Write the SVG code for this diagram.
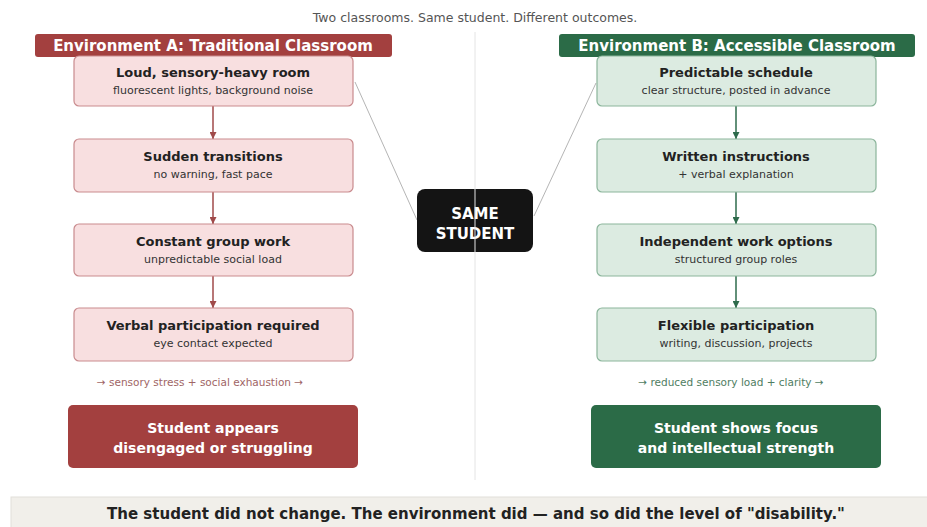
<svg xmlns="http://www.w3.org/2000/svg" width="927" height="527" viewBox="0 0 927 527">
<style>
text{font-family:"DejaVu Sans","Liberation Sans",sans-serif;text-anchor:middle}
.t{font-size:12.5px;fill:#555}
.hd{font-size:15px;font-weight:bold;fill:#fff}
.bt{font-size:13px;font-weight:bold;fill:#222}
.bs{font-size:11px;fill:#333}
.ra{fill:#f8dfe0;stroke:#c98b8e;stroke-width:1.2}
.ga{fill:#dcebe1;stroke:#8bb59b;stroke-width:1.2}
.sumA{font-size:10.5px;fill:#a06565}
.sumB{font-size:10.5px;fill:#4f7d62}
.out{font-size:14px;font-weight:bold;fill:#fff}
.ar{stroke:#a04a4a;stroke-width:1.5;fill:none}
.ag{stroke:#2e6b4c;stroke-width:1.5;fill:none}
.ln{stroke:#b5b5b5;stroke-width:1;fill:none}
</style>
<defs>
<marker id="mr" viewBox="0 0 10 10" refX="10" refY="5" markerWidth="7" markerHeight="7" markerUnits="userSpaceOnUse" orient="auto"><path d="M0,0L10,5L0,10z" fill="#a04a4a"/></marker>
<marker id="mg" viewBox="0 0 10 10" refX="10" refY="5" markerWidth="7" markerHeight="7" markerUnits="userSpaceOnUse" orient="auto"><path d="M0,0L10,5L0,10z" fill="#2e6b4c"/></marker>
</defs>
<rect width="927" height="527" fill="#fff"/>
<text class="t" x="475" y="22">Two classrooms. Same student. Different outcomes.</text>

<g id="connectors">
<line class="ar" x1="213" y1="106" x2="213" y2="139" marker-end="url(#mr)"/>
<line class="ar" x1="213" y1="192" x2="213" y2="224" marker-end="url(#mr)"/>
<line class="ar" x1="213" y1="276" x2="213" y2="308" marker-end="url(#mr)"/>
<line class="ag" x1="736" y1="106" x2="736" y2="139" marker-end="url(#mg)"/>
<line class="ag" x1="736" y1="192" x2="736" y2="224" marker-end="url(#mg)"/>
<line class="ag" x1="736" y1="276" x2="736" y2="308" marker-end="url(#mg)"/>
<line class="ln" x1="355" y1="82" x2="417" y2="220"/>
<line class="ln" x1="596" y1="83" x2="534" y2="216"/>
</g>

<g id="headerA"><rect x="35" y="34" width="357" height="23" rx="3" fill="#a3403f"/><text class="hd" x="213" y="51">Environment A: Traditional Classroom</text></g>
<g id="headerB"><rect x="559" y="34" width="356" height="23" rx="3" fill="#2b6b47"/><text class="hd" x="737" y="51">Environment B: Accessible Classroom</text></g>

<g id="a1"><rect class="ra" x="74" y="56" width="279" height="50" rx="5"/><text class="bt" x="213" y="77">Loud, sensory-heavy room</text><text class="bs" x="213" y="94">fluorescent lights, background noise</text></g>
<g id="a2"><rect class="ra" x="74" y="139" width="279" height="53" rx="5"/><text class="bt" x="213" y="161">Sudden transitions</text><text class="bs" x="213" y="178">no warning, fast pace</text></g>
<g id="a3"><rect class="ra" x="74" y="224" width="279" height="52" rx="5"/><text class="bt" x="213" y="246">Constant group work</text><text class="bs" x="213" y="263">unpredictable social load</text></g>
<g id="a4"><rect class="ra" x="74" y="308" width="279" height="53" rx="5"/><text class="bt" x="213" y="330">Verbal participation required</text><text class="bs" x="213" y="347">eye contact expected</text></g>

<g id="b1"><rect class="ga" x="597" y="56" width="279" height="50" rx="5"/><text class="bt" x="736" y="77">Predictable schedule</text><text class="bs" x="736" y="94">clear structure, posted in advance</text></g>
<g id="b2"><rect class="ga" x="597" y="139" width="279" height="53" rx="5"/><text class="bt" x="736" y="161">Written instructions</text><text class="bs" x="736" y="178">+ verbal explanation</text></g>
<g id="b3"><rect class="ga" x="597" y="224" width="279" height="52" rx="5"/><text class="bt" x="736" y="246">Independent work options</text><text class="bs" x="736" y="263">structured group roles</text></g>
<g id="b4"><rect class="ga" x="597" y="308" width="279" height="53" rx="5"/><text class="bt" x="736" y="330">Flexible participation</text><text class="bs" x="736" y="347">writing, discussion, projects</text></g>

<text class="sumA" x="200" y="386">→ sensory stress + social exhaustion →</text>
<text class="sumB" x="731" y="386">→ reduced sensory load + clarity →</text>

<g id="outA"><rect x="68" y="405" width="290" height="63" rx="5" fill="#a3403f"/><text class="out" x="213" y="433">Student appears</text><text class="out" x="213" y="453">disengaged or struggling</text></g>
<g id="outB"><rect x="591" y="405" width="290" height="63" rx="5" fill="#2b6b47"/><text class="out" x="736" y="433">Student shows focus</text><text class="out" x="736" y="453">and intellectual strength</text></g>

<g id="same"><rect x="417" y="189" width="116" height="63" rx="8" fill="#141414"/><text class="out" x="475" y="219" style="font-size:15px">SAME</text><text class="out" x="475" y="239" style="font-size:15px">STUDENT</text></g>
<line x1="475" y1="32" x2="475" y2="480" stroke="#e4e4e4" stroke-width="1"/>

<g id="banner"><rect x="11" y="497" width="920" height="34" fill="#f1efea" stroke="#e2e0da"/><text x="476" y="519" style="font-size:15px;font-weight:bold;fill:#222">The student did not change. The environment did — and so did the level of "disability."</text></g>
</svg>
